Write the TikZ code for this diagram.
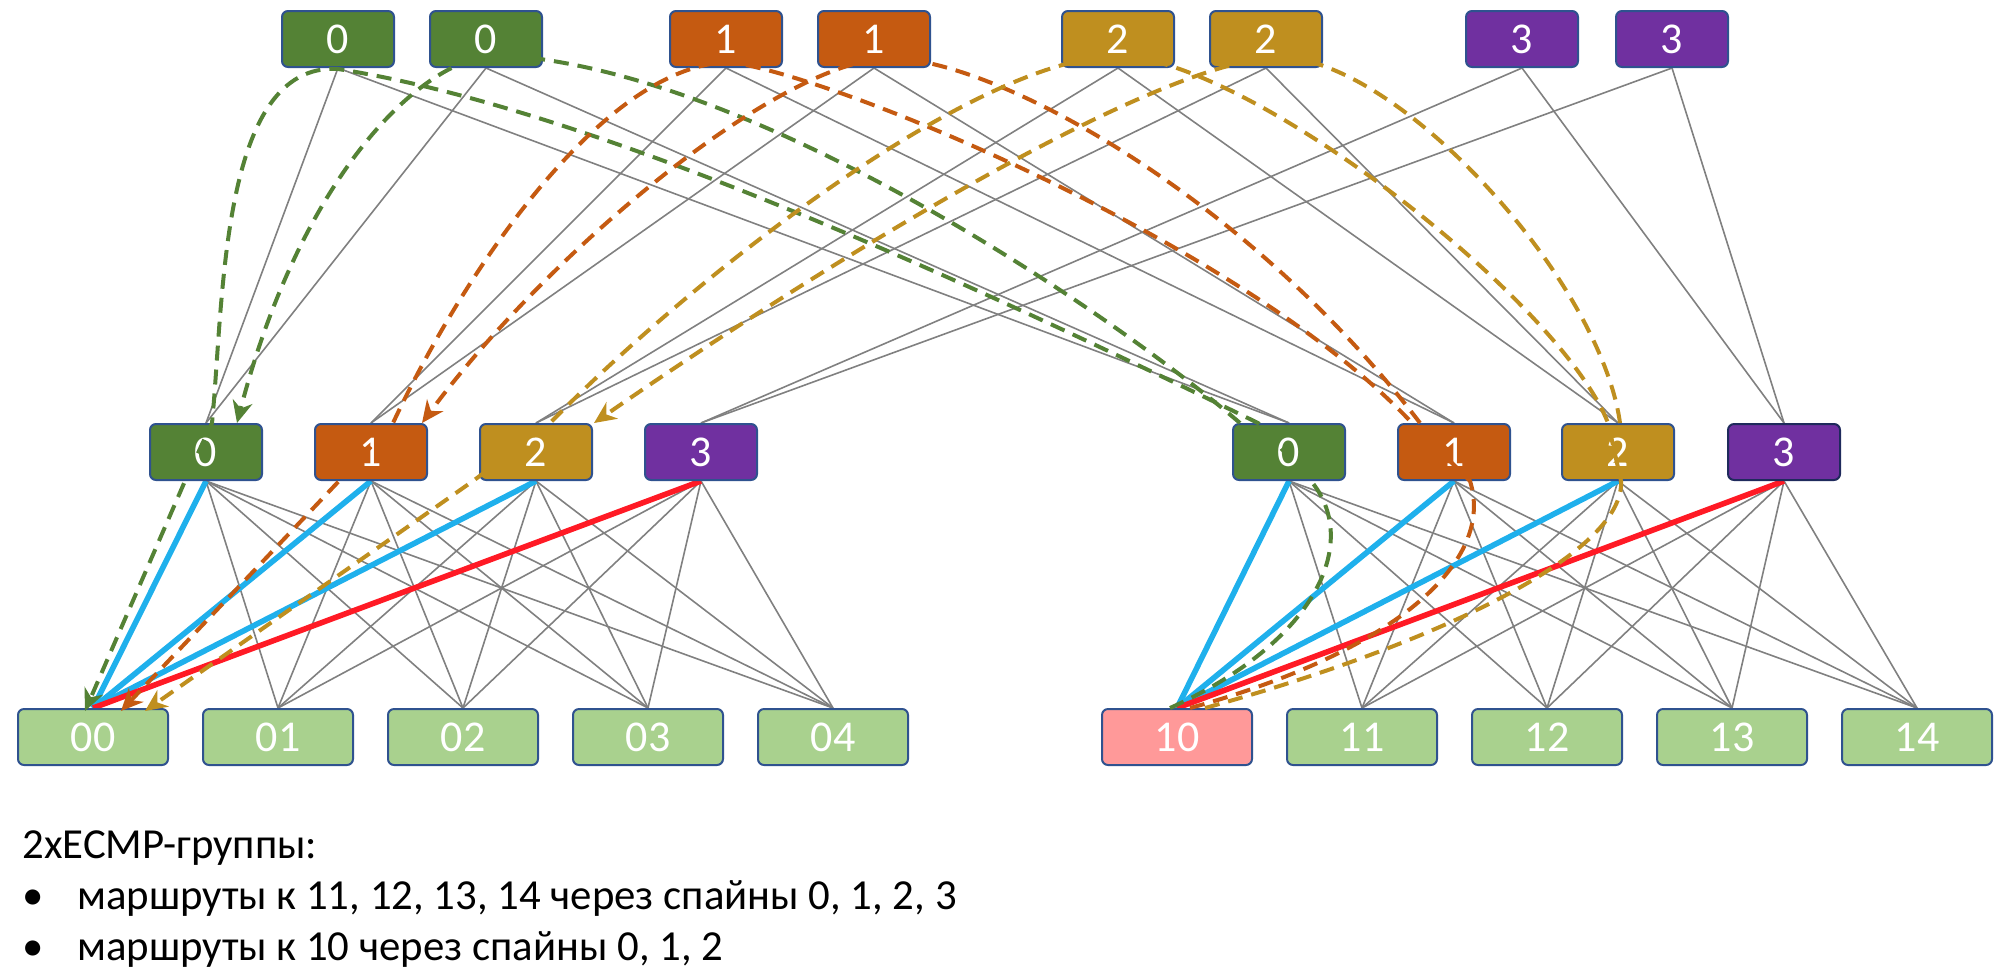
\documentclass[tikz,border=0pt]{standalone}
\usepackage{fontspec}
\setmainfont{Carlito}
\usetikzlibrary{arrows.meta,calc}
\definecolor{cgreen}{HTML}{548235}
\definecolor{corange}{HTML}{C55A11}
\definecolor{cgold}{HTML}{BF8F1F}
\definecolor{cpurple}{HTML}{7030A0}
\definecolor{cleaf}{HTML}{A9D18E}
\definecolor{cpink}{HTML}{FF9999}
\definecolor{cborder}{HTML}{2F528F}
\definecolor{cdark}{HTML}{1F2A5C}
\definecolor{cblue}{HTML}{1FB0EC}
\definecolor{cred}{HTML}{FF1A25}
\definecolor{cgray}{HTML}{808080}
\pgfdeclarelayer{bg}
\pgfdeclarelayer{fg}
\pgfsetlayers{bg,main,fg}
\tikzset{
  box/.style={draw=cborder, line width=1pt, rounded corners=3pt, minimum width=56pt,
    minimum height=28pt, inner sep=0pt, text=white, font=\fontsize{22}{26}\selectfont},
  leafbox/.style={box, minimum width=75pt},
  gl/.style={draw=cgray, line width=0.8pt},
  thickblue/.style={draw=cblue, line width=2.8pt},
  thickred/.style={draw=cred, line width=2.8pt},
  dsh/.style={line width=2pt, dash pattern=on 7.5pt off 4.5pt},
  gdash/.style={dsh, draw=cgreen},
  odash/.style={dsh, draw=corange},
  ydash/.style={dsh, draw=cgold},
  tip/.style={-{Stealth[length=11pt,width=10pt,inset=3.5pt]}},
  txt/.style={anchor=base west, inner sep=0pt, font=\fontsize{21.4}{25}\selectfont}
}
\begin{document}
\begin{tikzpicture}[x=0.5pt,y=-0.5pt]
\useasboundingbox (0,0) rectangle (2000,976);
% super spines
\node[box,fill=cgreen]  (t0a) at (338,39) {0};
\node[box,fill=cgreen]  (t0b) at (486,39) {0};
\node[box,fill=corange] (t1a) at (726,39) {1};
\node[box,fill=corange] (t1b) at (874,39) {1};
\node[box,fill=cgold]   (t2a) at (1118,39) {2};
\node[box,fill=cgold]   (t2b) at (1266,39) {2};
\node[box,fill=cpurple] (t3a) at (1522,39) {3};
\node[box,fill=cpurple] (t3b) at (1672,39) {3};
% spines
\node[box,fill=cgreen]  (m0L) at (206,452) {0};
\node[box,fill=corange] (m1L) at (371,452) {1};
\node[box,fill=cgold]   (m2L) at (536,452) {2};
\node[box,fill=cpurple] (m3L) at (701,452) {3};
\node[box,fill=cgreen]  (m0R) at (1289,452) {0};
\node[box,fill=corange] (m1R) at (1454,452) {1};
\node[box,fill=cgold]   (m2R) at (1618,452) {2};
\node[box,fill=cpurple,draw=cdark] (m3R) at (1784,452) {3};
% leaves
\node[leafbox,fill=cleaf] (l00) at (93,737) {00};
\node[leafbox,fill=cleaf] (l01) at (278,737) {01};
\node[leafbox,fill=cleaf] (l02) at (463,737) {02};
\node[leafbox,fill=cleaf] (l03) at (648,737) {03};
\node[leafbox,fill=cleaf] (l04) at (833,737) {04};
\node[leafbox,fill=cpink] (l10) at (1177,737) {10};
\node[leafbox,fill=cleaf] (l11) at (1362,737) {11};
\node[leafbox,fill=cleaf] (l12) at (1547,737) {12};
\node[leafbox,fill=cleaf] (l13) at (1732,737) {13};
\node[leafbox,fill=cleaf] (l14) at (1917,737) {14};

\begin{pgfonlayer}{bg}
\foreach \k in {0,1,2,3}{
  \foreach \v in {a,b}{
    \draw[gl] (t\k\v.south) -- (m\k L.north);
    \draw[gl] (t\k\v.south) -- (m\k R.north);
  }
  \foreach \j in {0,1,2,3,4}{
    \draw[gl] (m\k L.south) -- (l0\j.north);
    \draw[gl] (m\k R.south) -- (l1\j.north);
  }
}
\draw[thickblue] (l00.north) -- (m0L.south);
\draw[thickblue] (l00.north) -- (m1L.south);
\draw[thickblue] (l00.north) -- (m2L.south);
\draw[thickred]  (l00.north) -- (m3L.south);
\draw[thickblue] (l10.north) -- (m0R.south);
\draw[thickblue] (l10.north) -- (m1R.south);
\draw[thickblue] (l10.north) -- (m2R.south);
\draw[thickred]  (l10.north) -- (m3R.south);
\end{pgfonlayer}

\begin{pgfonlayer}{fg}
% green paths
\draw[gdash,tip] ($(l10.north)+(-7,0)$) .. controls (1320,640) and (1360,540) .. ($(m0R.south)+(22,0)$)
  -- ($(m0R.north)+(-31,0)$) .. controls (955,275) and (588,108) .. ($(t0a.south)+(0,1)$)
  .. controls (220,62) and (224,300) .. ($(m0L.north)+(6,0)$)
  -- ($(m0L.south)+(-21,0)$) -- ($(l00.north)+(-8,3)$);
\draw[gdash,tip] ($(m0R.north)+(-49,0)$) .. controls (1120,320) and (760,70) .. ($(t0b)+(14,16)$)
  .. controls (420,55) and (300,180) .. ($(m0L.north)+(31,0)$);
% orange paths
\draw[odash,tip] ($(l10.north)+(13,0)$) .. controls (1400,650) and (1495,560) .. ($(m1R.south)+(16,0)$)
  -- ($(m1R.north)+(-42,0)$) .. controls (1250,250) and (850,80) .. ($(t1a)+(4,23)$)
  .. controls (600,65) and (460,280) .. ($(m1L.north)+(22,0)$)
  -- ($(m1L.south)+(-32,0)$) -- ($(l00.north)+(28,3)$);
\draw[odash,tip] ($(m1R.north)+(-34,0)$) .. controls (1250,200) and (1000,60) .. ($(t1b)+(16,19)$)
  .. controls (780,60) and (550,250) .. ($(m1L.north)+(51,0)$);
% gold paths
\draw[ydash,tip] ($(l10.north)+(28,0)$) .. controls (1450,640) and (1625,550) .. ($(m2R.south)+(3,0)$)
  -- ($(m2R.north)+(-10,0)$) .. controls (1560,300) and (1250,60) .. ($(t2a)+(2,17)$)
  .. controls (980,55) and (700,270) .. ($(m2L.north)+(14,0)$)
  -- ($(m2L.south)+(-63,0)$) -- ($(l00.north)+(52,3)$);
\draw[ydash,tip] ($(m2R.north)+(2,0)$) .. controls (1600,280) and (1400,60) .. ($(t2b)+(14,18)$)
  .. controls (1150,60) and (800,280) .. ($(m2L.north)+(58,0)$);
\end{pgfonlayer}

% text
\node[txt] (h) at (22,858) {2xECMP-группы:};
\node[txt] (b1) at (22,909) {•};
\node[txt] (s1) at (77,909) {маршруты к 11, 12, 13, 14 через спайны 0, 1, 2, 3};
\node[txt] (b2) at (22,960) {•};
\node[txt] (s2) at (77,960) {маршруты к 10 через спайны 0, 1, 2};
\end{tikzpicture}
\end{document}
